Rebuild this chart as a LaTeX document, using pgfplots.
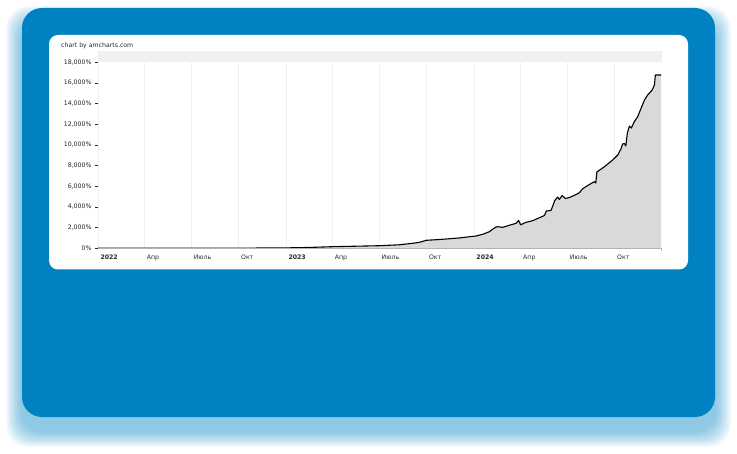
\documentclass[border=0pt]{standalone}
\usepackage{fontspec}
\setmainfont{DejaVu Sans}
\usepackage{pgfplots}
\pgfplotsset{compat=1.18}
\usepackage{pgfplotstable}

\definecolor{cardblue}{RGB}{0,130,194}
\definecolor{txt}{RGB}{40,40,40}
\definecolor{areafill}{RGB}{217,217,217}

% cumulative return, %; x = years since 1 Jan 2022
\pgfplotstableread{
x y
0.000 0
0.500 5
0.750 15
1.000 40
1.120 80
1.247 155
1.497 250
1.603 340
1.672 480
1.710 580
1.747 775
1.816 850
1.922 1000
1.976 1120
2.011 1190
2.046 1355
2.082 1605
2.099 1840
2.118 2060
2.126 2090
2.153 2030
2.188 2225
2.224 2420
2.238 2690
2.248 2275
2.277 2515
2.312 2670
2.348 2960
2.375 3175
2.385 3610
2.410 3660
2.419 4095
2.430 4625
2.445 4965
2.454 4720
2.469 5110
2.486 4820
2.508 4915
2.543 5205
2.561 5380
2.578 5760
2.605 6075
2.640 6445
2.648 6320
2.654 7385
2.694 7895
2.738 8545
2.765 9030
2.783 9660
2.791 10095
2.800 10140
2.808 9900
2.816 11160
2.827 11835
2.837 11640
2.853 12250
2.871 12735
2.889 13550
2.907 14350
2.924 14835
2.948 15320
2.960 15800
2.965 16770
2.995 16770
}\growth

\begin{document}
\begin{tikzpicture}
\useasboundingbox (0,0) rectangle (737pt,453pt);
\begin{scope}[x=1pt,y=1pt]
  \foreach \i in {1,...,16}{
    \fill[cardblue,opacity=0.035,rounded corners=22pt] (22-\i,22-\i) rectangle (715+\i,431+\i);
  }
  \fill[cardblue,rounded corners=20pt] (22,36) rectangle (715,445);
  \fill[white,rounded corners=9pt] (49,183.5) rectangle (688,418);
  \fill[black!6] (98,391) rectangle (661.7,402);
  \node[anchor=west,font=\fontsize{6.2}{7}\selectfont,text=txt,inner sep=0pt] at (61,407) {chart by amcharts.com};
\end{scope}

\begin{axis}[
  at={(98pt,204.7pt)}, anchor=south west,
  scale only axis, width=563pt, height=186pt,
  xmin=0, xmax=2.995, ymin=0, ymax=18000,
  clip=false,
  axis line style={draw=none},
  xtick={0,0.2466,0.4959,0.7479,1,1.2466,1.4959,1.7479,2,2.2486,2.4973,2.7486},
  xticklabels={\textbf{2022},Апр,Июль,Окт,\textbf{2023},Апр,Июль,Окт,\textbf{2024},Апр,Июль,Окт},
  ytick={0,2000,...,18000},
  yticklabels={0\%,{2,000\%},{4,000\%},{6,000\%},{8,000\%},{10,000\%},{12,000\%},{14,000\%},{16,000\%},{18,000\%}},
  tick label style={font=\fontsize{6.2}{7}\selectfont,text=txt},
  xticklabel style={anchor=north west,xshift=-1pt,yshift=-0.5pt},
  yticklabel style={xshift=-0.5pt},
  ytick pos=left, tick align=outside, major tick length=2.5pt,
  ytick style={draw=txt,line width=0.5pt},
  xtick style={draw=none},
  xmajorgrids, x grid style={black!6,line width=0.5pt},
  scaled y ticks=false,
]
\addplot[fill=areafill,draw=none] table {\growth} \closedcycle;
\addplot[black,line width=1.1pt,line join=round] table {\growth};
\draw[black!30,line width=0.6pt] (rel axis cs:0,0) -- (rel axis cs:1,0);
\draw[black!30,line width=0.6pt] (rel axis cs:1,0) -- ++(0pt,-3pt);
\end{axis}
\end{tikzpicture}
\end{document}
